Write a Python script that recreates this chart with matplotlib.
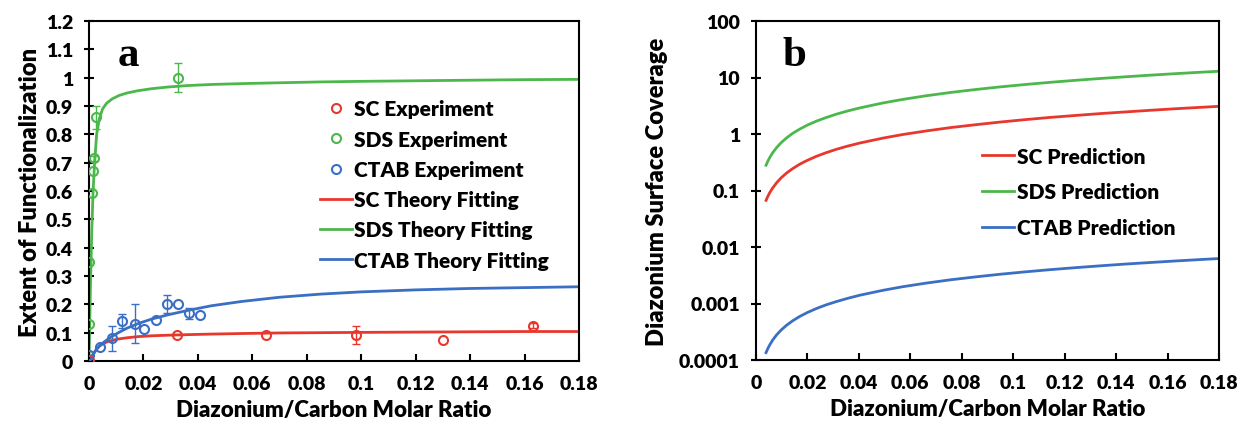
import numpy as np
import matplotlib
matplotlib.use("Agg")
from matplotlib import pyplot as plt
from matplotlib.ticker import FixedLocator, FuncFormatter, NullLocator

plt.rcParams['font.family'] = ['Lato', 'DejaVu Sans']
plt.rcParams['font.weight'] = 'heavy'

red = "#e8382e"
green = "#4cb84c"
blue = "#3a6fc4"

# panel a: experiments
sc_x = [0.0, 0.0325, 0.065, 0.098, 0.130, 0.163]
sc_y = [0.005, 0.093, 0.093, 0.093, 0.075, 0.125]
sc_err = [0, 0, 0, 0.032, 0, 0.01]

sds_x = [0.0, 0.0, 0.0012, 0.0016, 0.002, 0.0026, 0.0328]
sds_y = [0.13, 0.348, 0.592, 0.672, 0.715, 0.86, 1.0]
sds_err = [0, 0, 0, 0, 0.01, 0.04, 0.05]

ctab_x = [0.0, 0.004, 0.0083, 0.0123, 0.0169, 0.0203, 0.0246, 0.0285, 0.0328, 0.0368, 0.0408]
ctab_y = [0.02, 0.048, 0.08, 0.142, 0.131, 0.113, 0.146, 0.201, 0.201, 0.168, 0.162]
ctab_err = [0, 0, 0.045, 0.025, 0.069, 0, 0, 0.033, 0, 0.02, 0]

# panel a: theory fitting curves
fit_x = [0.0, 0.0005, 0.001, 0.0015, 0.002, 0.0028, 0.0038, 0.005, 0.0065, 0.0085,
         0.011, 0.014, 0.018, 0.023, 0.029, 0.036, 0.045, 0.056, 0.07, 0.085,
         0.1, 0.12, 0.14, 0.16, 0.18]
sc_fit = [0.0, 0.008, 0.016, 0.024, 0.031, 0.042, 0.052, 0.060, 0.067, 0.073,
          0.078, 0.082, 0.086, 0.089, 0.091, 0.093, 0.095, 0.097, 0.099, 0.100,
          0.101, 0.102, 0.103, 0.104, 0.104]
sds_fit = [0.0, 0.25, 0.45, 0.60, 0.69, 0.80, 0.855, 0.89, 0.91, 0.925,
           0.937, 0.946, 0.954, 0.961, 0.967, 0.972, 0.976, 0.979, 0.982, 0.985,
           0.987, 0.989, 0.991, 0.993, 0.994]
ctab_fit = [0.0, 0.008, 0.016, 0.023, 0.030, 0.042, 0.053, 0.063, 0.074, 0.087,
            0.101, 0.116, 0.132, 0.148, 0.163, 0.178, 0.195, 0.210, 0.225, 0.236,
            0.244, 0.251, 0.256, 0.259, 0.262]

# panel b: predictions
pred_x = [0.0039, 0.0047, 0.0054, 0.0065, 0.008, 0.0098, 0.0119, 0.0143, 0.017, 0.02,
          0.0235, 0.0272, 0.0312, 0.0355, 0.0403, 0.0493, 0.057, 0.066, 0.0757, 0.0854,
          0.0951, 0.1049, 0.1146, 0.1243, 0.134, 0.1437, 0.1534, 0.1631, 0.1715, 0.18]
sc_pred = [0.0669, 0.0806, 0.0926, 0.111, 0.137, 0.168, 0.204, 0.245, 0.292, 0.343,
           0.403, 0.466, 0.535, 0.609, 0.691, 0.845, 0.978, 1.13, 1.30, 1.46,
           1.63, 1.80, 1.97, 2.13, 2.30, 2.46, 2.63, 2.80, 2.94, 3.09]
sds_pred = [0.28, 0.337, 0.388, 0.467, 0.574, 0.704, 0.854, 1.03, 1.22, 1.44,
            1.69, 1.95, 2.24, 2.55, 2.89, 3.54, 4.09, 4.74, 5.44, 6.13,
            6.83, 7.53, 8.23, 8.92, 9.62, 10.3, 11.0, 11.7, 12.3, 12.9]
ctab_pred = [1.35e-4, 1.63e-4, 1.87e-4, 2.26e-4, 2.78e-4, 3.40e-4, 4.13e-4, 4.96e-4, 5.90e-4, 6.94e-4,
             8.15e-4, 9.44e-4, 1.08e-3, 1.23e-3, 1.40e-3, 1.71e-3, 1.98e-3, 2.29e-3, 2.63e-3, 2.96e-3,
             3.30e-3, 3.64e-3, 3.98e-3, 4.31e-3, 4.65e-3, 4.99e-3, 5.32e-3, 5.66e-3, 5.95e-3, 6.25e-3]

x_ticks = [0, 0.02, 0.04, 0.06, 0.08, 0.1, 0.12, 0.14, 0.16, 0.18]
ya_ticks = [0, 0.1, 0.2, 0.3, 0.4, 0.5, 0.6, 0.7, 0.8, 0.9, 1.0, 1.1, 1.2]
yb_ticks = [0.0001, 0.001, 0.01, 0.1, 1, 10, 100]
yb_labels = ["0.0001", "0.001", "0.01", "0.1", "1", "10", "100"]

fig = plt.figure(figsize=(12.4, 4.27), dpi=100)
ax1 = fig.add_axes([89/1240, 1-362/427, 490/1240, 340/427])
ax2 = fig.add_axes([756/1240, 1-361/427, 463/1240, 339/427])

fmt = FuncFormatter(lambda v, p: f"{v:g}")

# ---- panel a
lw = 2.0
ax1.plot(fit_x, sc_fit, color=red, lw=lw, label="SC Theory Fitting", zorder=2)
ax1.plot(fit_x, sds_fit, color=green, lw=lw, label="SDS Theory Fitting", zorder=2)
ax1.plot(fit_x, ctab_fit, color=blue, lw=lw, label="CTAB Theory Fitting", zorder=2)

for xs, ys, es, c, lab in [(sc_x, sc_y, sc_err, red, "SC Experiment"),
                           (sds_x, sds_y, sds_err, green, "SDS Experiment"),
                           (ctab_x, ctab_y, ctab_err, blue, "CTAB Experiment")]:
    xs = np.array(xs); ys = np.array(ys); es = np.array(es)
    m = es > 0
    ax1.errorbar(xs[m], ys[m], yerr=es[m], fmt='none', ecolor=c, elinewidth=1.0,
                 capsize=3, capthick=1.0, zorder=3)
    ax1.plot(xs, ys, 'o', mfc='none', mec=c, mew=1.5, ms=6.5, label=lab, zorder=4)

ax1.set_xlim(0, 0.18)
ax1.set_ylim(0, 1.2)
ax1.xaxis.set_major_locator(FixedLocator(x_ticks))
ax1.yaxis.set_major_locator(FixedLocator(ya_ticks))
ax1.xaxis.set_major_formatter(fmt)
ax1.yaxis.set_major_formatter(fmt)
ax1.set_xlabel("Diazonium/Carbon Molar Ratio", fontsize=16, fontweight='heavy', labelpad=5)
ax1.set_ylabel("Extent of Functionalization", fontsize=17, fontweight='heavy', labelpad=3)
ax1.text(0.058, 0.955, "a", transform=ax1.transAxes, fontsize=31, fontweight='bold',
         family='Liberation Serif', va='top')

h, l = ax1.get_legend_handles_labels()
order = [3, 4, 5, 0, 1, 2]
ax1.legend([h[i] for i in order], [l[i] for i in order], loc='upper left',
           bbox_to_anchor=(0.451, 0.80), frameon=False, fontsize=15,
           handlelength=1.5, handletextpad=0.1, labelspacing=0.54, borderpad=0)

# ---- panel b
ax2.plot(pred_x, sc_pred, color=red, lw=lw, label="SC Prediction")
ax2.plot(pred_x, sds_pred, color=green, lw=lw, label="SDS Prediction")
ax2.plot(pred_x, ctab_pred, color=blue, lw=lw, label="CTAB Prediction")
ax2.set_yscale('log')
ax2.set_xlim(0, 0.18)
ax2.set_ylim(0.0001, 100)
ax2.xaxis.set_major_locator(FixedLocator(x_ticks))
ax2.xaxis.set_major_formatter(fmt)
ax2.yaxis.set_major_locator(FixedLocator(yb_ticks))
ax2.set_yticklabels(yb_labels)
ax2.yaxis.set_minor_locator(NullLocator())
ax2.set_xlabel("Diazonium/Carbon Molar Ratio", fontsize=16, fontweight='heavy', labelpad=5)
ax2.set_ylabel("Diazonium Surface Coverage", fontsize=17, fontweight='heavy', labelpad=8)
ax2.text(0.058, 0.955, "b", transform=ax2.transAxes, fontsize=31, fontweight='bold',
         family='Liberation Serif', va='top')
ax2.legend(loc='upper left', bbox_to_anchor=(0.466, 0.66), frameon=False, fontsize=15,
           handlelength=1.55, handletextpad=0.1, labelspacing=0.8, borderpad=0)

for ax in (ax1, ax2):
    for s in ax.spines.values():
        s.set_linewidth(1.5)
    ax.tick_params(axis='x', direction='in', length=5, width=1.5, labelsize=14, pad=10)
    ax.tick_params(axis='y', direction='inout', length=7, width=1.5, labelsize=14, pad=8)
    ax.tick_params(axis='both', which='minor', length=0)

fig.savefig("out.png", dpi=100)
